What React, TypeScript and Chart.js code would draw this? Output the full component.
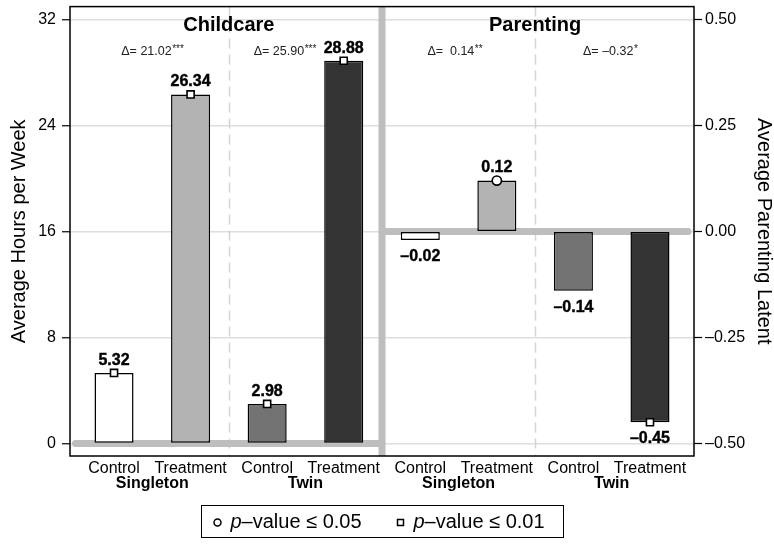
import React, { useEffect, useRef } from 'react';
import { Chart, registerables } from 'chart.js';

Chart.register(...registerables);

// ---- data ----
const panels = ['Childcare', 'Parenting'];
const groups = ['Singleton', 'Twin'];
const conditions = ['Control', 'Treatment'];
const childcareHours = [5.32, 26.34, 2.98, 28.88];
const parentingLatent = [-0.02, 0.12, -0.14, -0.45];
const childcareSig = ['p01', 'p01', 'p01', 'p01'];
const parentingSig = ['', 'p05', '', 'p01'];
const deltaValues = [21.02, 25.9, 0.14, -0.32];
const deltaStars = ['***', '***', '**', '*'];
const hourTicks = [0, 8, 16, 24, 32];
const latentTicks = [-0.5, -0.25, 0, 0.25, 0.5];
const legendLabels = ['p–value ≤ 0.05', 'p–value ≤ 0.01'];
const legendKinds = ['p05', 'p01'];
const axisTitles = ['Average Hours per Week', 'Average Parenting Latent'];

// ---- layout constants ----
const FONT = '"Liberation Sans", Arial, Helvetica, sans-serif';
const HOURS_MIN = -0.95;
const HOURS_MAX = 32.97;
// right axis aligned so that 32 h <-> 0.5 and 0 h <-> -0.5
const toLatent = (h: number) => h / 32 - 0.5;
const X_MIN = -0.575;
const X_MAX = 7.575;
const DELTA_POS = [0.5, 2.23, 4.45, 6.48];
const FILLS = ['#ffffff', '#b3b3b3', '#737373', '#333333'];

const fmt = (v: number) => (v < 0 ? '–' : '') + Math.abs(v).toFixed(2);

export default function App() {
  const ref = useRef<HTMLCanvasElement>(null);

  useEffect(() => {
    const canvas = ref.current!;
    Chart.defaults.font.family = FONT;
    Chart.defaults.color = '#000';
    const n0 = childcareHours.length;

    const pts = (vals: number[], off: number) => vals.map((v, i) => ({ x: i + off, y: v }));
    const marks = (vals: number[], sig: string[], off: number, kind: string) =>
      pts(vals, off).filter((_, i) => sig[i] === kind);

    const barCommon = {
      type: 'bar' as const,
      backgroundColor: FILLS,
      borderColor: '#000',
      borderWidth: 1.5,
      borderSkipped: false as const,
      grouped: false,
      categoryPercentage: 1,
      barPercentage: 0.51,
      order: 2,
    };
    const markCommon = (kind: string) => ({
      type: 'scatter' as const,
      pointStyle: kind === 'p01' ? 'rect' : 'circle',
      pointRadius: kind === 'p01' ? 5 : 4.6,
      pointBackgroundColor: '#fff',
      pointBorderColor: '#000',
      pointBorderWidth: 1.6,
      showLine: false,
      order: 1,
    });

    const noPad = (s: any) => {
      s.paddingTop = 0;
      s.paddingBottom = 0;
      s.paddingLeft = 0;
      s.paddingRight = 0;
    };

    const overlay = {
      id: 'overlay',
      beforeDatasetsDraw(chart: any) {
        const { ctx, chartArea, scales } = chart;
        const { left, right, top, bottom } = chartArea;
        const { x, y, y2 } = scales;
        ctx.save();
        const line = (a: number, b: number, c: number, d: number) => {
          ctx.beginPath();
          ctx.moveTo(a, b);
          ctx.lineTo(c, d);
          ctx.stroke();
        };
        // dashed group dividers
        ctx.strokeStyle = '#d4d4d4';
        ctx.lineWidth = 1.5;
        ctx.setLineDash([10, 6]);
        [1.5, 5.5].forEach((v) => {
          const px = Math.round(x.getPixelForValue(v)) + 0.5;
          line(px, top, px, bottom);
        });
        ctx.setLineDash([]);
        // zero reference lines
        const sep = x.getPixelForValue(3.5);
        ctx.strokeStyle = '#bebebe';
        ctx.lineWidth = 7;
        ctx.lineCap = 'round';
        const y0 = y.getPixelForValue(0);
        const y20 = y2.getPixelForValue(0);
        line(left + 5.5, y0, sep, y0);
        line(sep, y20, right - 6, y20);
        // panel separator
        ctx.lineCap = 'butt';
        line(sep, top, sep, bottom);
        ctx.restore();
      },
      afterDatasetsDraw(chart: any) {
        const { ctx, chartArea, scales } = chart;
        const { left, right, top, bottom } = chartArea;
        const { x } = scales;
        ctx.save();
        // frame
        ctx.strokeStyle = '#000';
        ctx.lineWidth = 1.5;
        ctx.strokeRect(left, top, right - left, bottom - top);

        // value labels
        ctx.fillStyle = '#000';
        ctx.strokeStyle = '#000';
        ctx.lineWidth = 0.4;
        ctx.textAlign = 'center';
        ctx.textBaseline = 'alphabetic';
        ctx.font = `bold 16px ${FONT}`;
        [0, 1].forEach((di) => {
          const meta = chart.getDatasetMeta(di);
          const vals = di === 0 ? childcareHours : parentingLatent;
          const sig = di === 0 ? childcareSig : parentingSig;
          meta.data.forEach((el: any, i: number) => {
            const v = vals[i];
            const p = el.getProps(['x', 'y'], true);
            const ty = v >= 0 ? p.y - (sig[i] === 'p05' ? 9 : 8) : p.y + 21;
            ctx.fillText(fmt(v), p.x, ty);
            ctx.strokeText(fmt(v), p.x, ty);
          });
        });

        // panel titles
        ctx.font = `bold 20px ${FONT}`;
        ctx.textBaseline = 'middle';
        panels.forEach((t, i) => {
          ctx.fillText(t, x.getPixelForValue(1.5 + 4 * i), top + 19);
        });

        // delta annotations
        ctx.textBaseline = 'alphabetic';
        ctx.fillStyle = '#222';
        deltaValues.forEach((d, i) => {
          const main = 'Δ= ' + fmt(d).padStart(5, ' ');
          const stars = deltaStars[i];
          ctx.font = `12.5px ${FONT}`;
          const w1 = ctx.measureText(main).width;
          ctx.font = `10px ${FONT}`;
          const w2 = ctx.measureText(stars).width;
          const cx = x.getPixelForValue(DELTA_POS[i]);
          const sx = cx - (w1 + w2) / 2;
          const by = top + 48;
          ctx.textAlign = 'left';
          ctx.font = `12.5px ${FONT}`;
          ctx.fillText(main, sx, by);
          ctx.font = `10px ${FONT}`;
          ctx.fillText(stars, sx + w1 + 0.5, by - 3);
        });

        // group labels
        ctx.fillStyle = '#000';
        ctx.textAlign = 'center';
        ctx.textBaseline = 'middle';
        ctx.font = `bold 16px ${FONT}`;
        [0, 1].forEach((pi) => {
          groups.forEach((g, gi) => {
            ctx.fillText(g, x.getPixelForValue(0.5 + 2 * gi + 4 * pi), bottom + 28);
          });
        });

        // legend
        const cx = (left + right) / 2;
        const bw = 362;
        const bx = Math.round(cx - bw / 2) + 0.5;
        const by = 505.5;
        const bh = 32;
        ctx.strokeStyle = '#000';
        ctx.lineWidth = 1;
        ctx.strokeRect(bx, by, bw, bh);
        const my = by + bh / 2 + 1;
        const offs = [16, 199];
        legendLabels.forEach((lab, i) => {
          const mx = bx + offs[i];
          ctx.fillStyle = '#fff';
          ctx.strokeStyle = '#000';
          ctx.lineWidth = 1.5;
          ctx.beginPath();
          if (legendKinds[i] === 'p05') ctx.arc(mx, my, 3.5, 0, Math.PI * 2);
          else ctx.rect(mx - 3, my - 3, 6, 6);
          ctx.fill();
          ctx.stroke();
          ctx.fillStyle = '#000';
          ctx.textAlign = 'left';
          ctx.textBaseline = 'middle';
          const tx = mx + 13;
          ctx.font = `italic 20px ${FONT}`;
          ctx.fillText(lab[0], tx, my);
          const w = ctx.measureText(lab[0]).width;
          ctx.font = `20px ${FONT}`;
          ctx.fillText(lab.slice(1), tx + w, my);
        });
        ctx.restore();
      },
    };

    const chart = new Chart(canvas, {
      type: 'bar',
      data: {
        datasets: [
          { ...barCommon, label: panels[0], data: pts(childcareHours, 0), yAxisID: 'y' },
          { ...barCommon, label: panels[1], data: pts(parentingLatent, n0), yAxisID: 'y2' },
          { ...markCommon('p01'), label: legendLabels[1], data: marks(childcareHours, childcareSig, 0, 'p01'), yAxisID: 'y' },
          { ...markCommon('p05'), label: legendLabels[0], data: marks(childcareHours, childcareSig, 0, 'p05'), yAxisID: 'y' },
          { ...markCommon('p01'), label: legendLabels[1], data: marks(parentingLatent, parentingSig, n0, 'p01'), yAxisID: 'y2' },
          { ...markCommon('p05'), label: legendLabels[0], data: marks(parentingLatent, parentingSig, n0, 'p05'), yAxisID: 'y2' },
        ] as any,
      },
      options: {
        responsive: false,
        animation: false,
        devicePixelRatio: 1,
        events: [],
        layout: { padding: { top: 3, left: 0, right: 0, bottom: 0 } },
        plugins: { legend: { display: false }, tooltip: { enabled: false } },
        scales: {
          x: {
            type: 'linear',
            position: 'bottom',
            offset: false,
            min: X_MIN,
            max: X_MAX,
            grid: { display: false, drawTicks: false, offset: false },
            border: { display: false },
            afterBuildTicks: (s: any) => {
              s.ticks = [...childcareHours, ...parentingLatent].map((_, i) => ({ value: i }));
            },
            afterFit: (s: any) => {
              s.height = 91;
              noPad(s);
            },
            ticks: {
              autoSkip: false,
              maxRotation: 0,
              padding: 3,
              color: '#000',
              font: { size: 16 },
              callback: (v: any) => conditions[Number(v) % 2],
            },
          },
          y: {
            type: 'linear',
            position: 'left',
            min: HOURS_MIN,
            max: HOURS_MAX,
            afterBuildTicks: (s: any) => {
              s.ticks = hourTicks.map((v) => ({ value: v }));
            },
            afterFit: (s: any) => {
              s.width = 70;
              noPad(s);
            },
            grid: { color: '#dedede', lineWidth: 1.5, tickColor: '#000', tickWidth: 1.2, tickLength: 8 },
            border: { display: false },
            ticks: { padding: 6, color: '#000', font: { size: 16 }, callback: (v: any) => String(v) },
            title: { display: true, text: axisTitles[0], color: '#000', font: { size: 20 }, padding: { top: 7, bottom: 0 } },
          },
          y2: {
            type: 'linear',
            position: 'right',
            min: toLatent(HOURS_MIN),
            max: toLatent(HOURS_MAX),
            afterBuildTicks: (s: any) => {
              s.ticks = latentTicks.map((v) => ({ value: v }));
            },
            afterFit: (s: any) => {
              s.width = 80;
              noPad(s);
            },
            grid: { drawOnChartArea: false, tickColor: '#000', tickWidth: 1.2, tickLength: 8 },
            border: { display: false },
            ticks: { padding: 3, color: '#000', font: { size: 16 }, callback: (v: any) => fmt(Number(v)) },
            title: { display: true, text: axisTitles[1], color: '#000', font: { size: 20 }, padding: { top: -2, bottom: 0 } },
          },
        },
      } as any,
      plugins: [overlay],
    });

    return () => chart.destroy();
  }, []);

  return (
    <div style={{ position: 'absolute', left: 0, top: 0, width: 774, height: 547 }}>
      <canvas ref={ref} width={774} height={547} style={{ display: 'block' }} />
    </div>
  );
}
